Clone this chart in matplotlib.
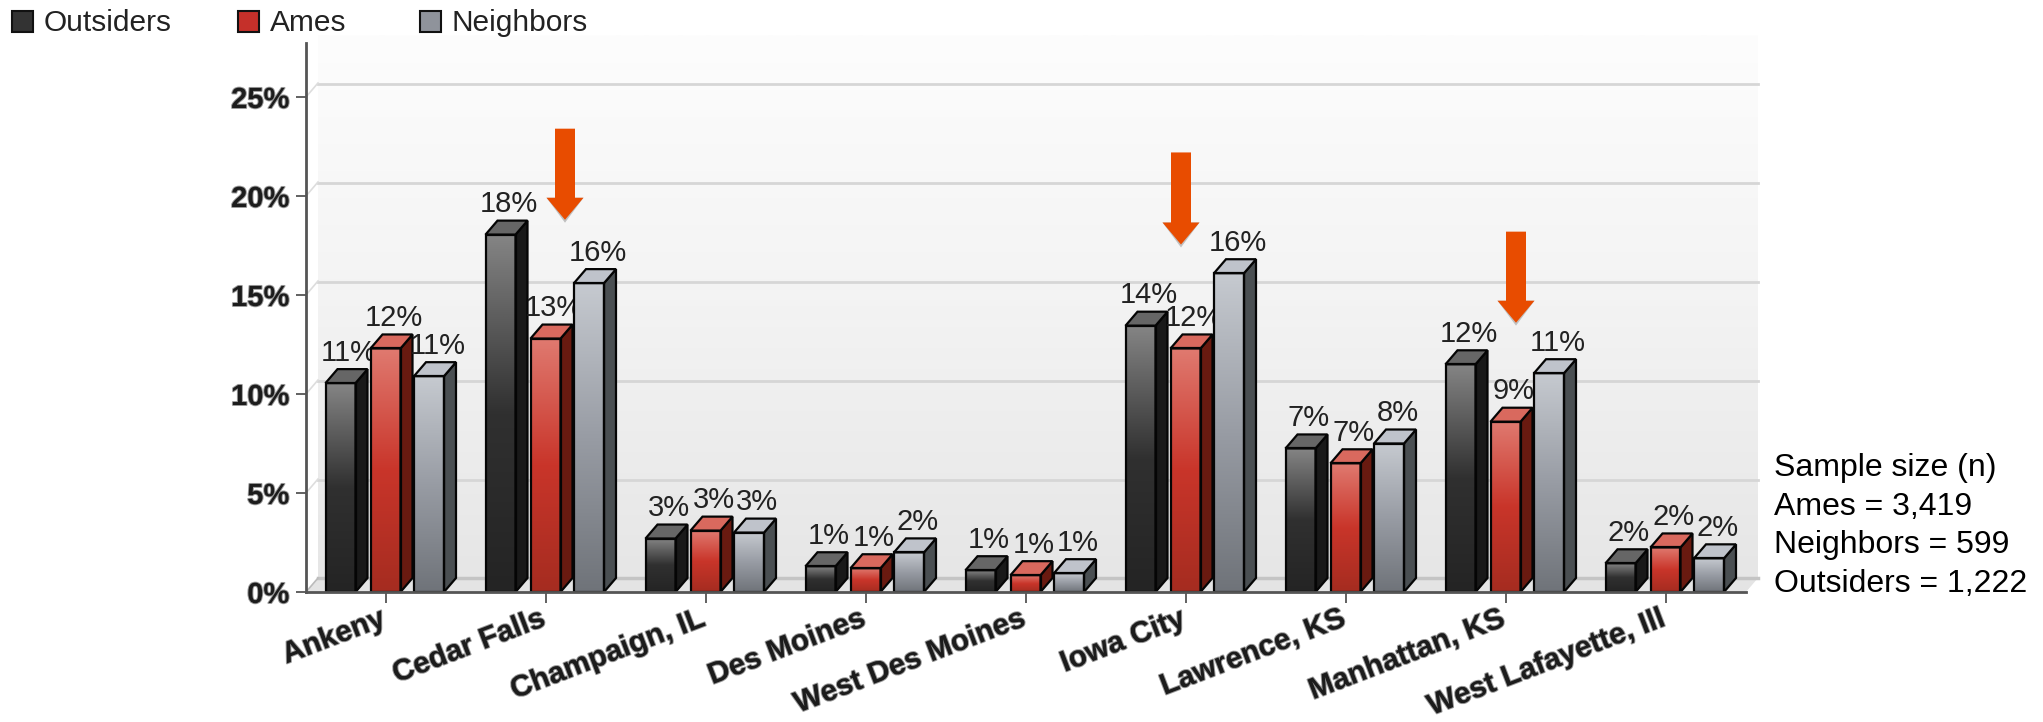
import numpy as np
import matplotlib
matplotlib.use('Agg')
import matplotlib.pyplot as plt
import matplotlib.patheffects as pe
from matplotlib.colors import LinearSegmentedColormap
from matplotlib.patches import Polygon, Rectangle

plt.rcParams['font.family'] = ['Liberation Sans', 'DejaVu Sans']

cities = ['Ankeny', 'Cedar Falls', 'Champaign, IL', 'Des Moines', 'West Des Moines',
          'Iowa City', 'Lawrence, KS', 'Manhattan, KS', 'West Lafayette, Ill']
outsiders = [10.55, 18.05, 2.7, 1.3, 1.1, 13.45, 7.25, 11.5, 1.45]
ames = [12.3, 12.8, 3.1, 1.2, 0.85, 12.3, 6.5, 8.6, 2.25]
neighbors = [10.9, 15.6, 3.0, 2.0, 0.95, 16.1, 7.5, 11.05, 1.7]
outsiders_labels = [11, 18, 3, 1, 1, 14, 7, 12, 2]
ames_labels = [12, 13, 3, 1, 1, 12, 7, 9, 2]
neighbors_labels = [11, 16, 3, 2, 1, 16, 8, 11, 2]
sample_lines = ['Sample size (n)', 'Ames = 3,419', 'Neighbors = 599', 'Outsiders = 1,222']

W, H = 2043, 722
# plot area in pixels
left, right, base, top = 306, 1746, 592, 43
px_x = 160.0          # pixels per category
px_y = 19.8           # pixels per percent
bar_w = 30 / px_x
dx = 12 / px_x        # 3d depth in data units
dy = 14 / px_y

fig = plt.figure(figsize=(W / 100, H / 100), dpi=100, facecolor='white')
ax = fig.add_axes([left / W, (H - base) / H, (right - left) / W, (base - top) / H])
ax.patch.set_visible(False)
xlim = (-0.5, 8.5)
ylim = (0, (base - top) / px_y)


def gradient(x0, x1, y0, y1, cmap, z):
    # vertical gradient, 0 at the top
    g = np.linspace(0, 1, 256).reshape(-1, 1)
    ax.imshow(g, extent=(x0, x1, y0, y1), aspect='auto', cmap=cmap, vmin=0, vmax=1,
              origin='upper', zorder=z, clip_on=False, interpolation='bilinear')


# back wall and floor
wall = LinearSegmentedColormap.from_list('wall', ['#fdfdfd', '#f3f3f3', '#e6e6e6'])
gradient(-0.5 + dx, 8.5 + dx, dy, ylim[1] + 0.4, wall, 0)
ax.add_patch(Polygon([(-0.5, 0), (8.5, 0), (8.5 + dx, dy), (-0.5 + dx, dy)],
                     facecolor='#e4e4e4', edgecolor='none', zorder=0.5, clip_on=False))

for v in [5, 10, 15, 20, 25]:
    ax.plot([-0.5 + dx, 8.5 + dx], [v + dy - 0.05, v + dy - 0.05], color='#d6d6d6', lw=2, zorder=1, clip_on=False)
    ax.plot([-0.5, -0.5 + dx], [v, v + dy], color='#dddddd', lw=1.2, zorder=1, clip_on=False)
ax.plot([-0.5 + dx, 8.5 + dx], [dy, dy], color='#c4c4c4', lw=2.5, zorder=1, clip_on=False)
ax.plot([-0.5, -0.5 + dx], [0, dy], color='#bbbbbb', lw=1.2, zorder=1, clip_on=False)

series = [
    ('Outsiders', outsiders, outsiders_labels, -60.5,
     ['#858585', '#303030', '#242424'], '#191919', '#666666', '#333333'),
    ('Ames', ames, ames_labels, -15.5,
     ['#e07a70', '#c9352a', '#a52c20'], '#691a10', '#d9695e', '#c5302a'),
    ('Neighbors', neighbors, neighbors_labels, 28,
     ['#c6cad0', '#989ca4', '#6f7379'], '#4a4f52', '#bfc3cb', '#8f939b'),
]

for s, (name, values, labels, off, stops, side, cap, swatch) in enumerate(series):
    cmap = LinearSegmentedColormap.from_list(name, stops)
    z = 3 + s
    for i, (v, lab) in enumerate(zip(values, labels)):
        x0 = i + off / px_x
        x1 = x0 + bar_w
        gradient(x0, x1, 0, v, cmap, z)
        ax.add_patch(Rectangle((x0, 0), bar_w, v, fill=False, edgecolor='#050505', lw=1.6, zorder=z + 0.2))
        ax.add_patch(Polygon([(x1, 0), (x1 + dx, dy), (x1 + dx, v + dy), (x1, v)],
                             facecolor=side, edgecolor='#050505', lw=1.6, zorder=z + 0.1))
        ax.add_patch(Polygon([(x0, v), (x1, v), (x1 + dx, v + dy), (x0 + dx, v + dy)],
                             facecolor=cap, edgecolor='#050505', lw=1.6, zorder=z + 0.1))
        ax.text(x0 + (bar_w + dx) / 2 + 0.015, v + dy + 0.12, '%d%%' % lab, ha='center', va='bottom',
                fontsize=21, color='#222222', zorder=z + 0.3, clip_on=False)

# orange arrows: category, x shift, top of the shaft and tip in percent
arrow_city = [1, 5, 7]
arrow_shift = [19, -5, 10]
arrow_top = [23.4, 22.2, 18.2]
arrow_tip = [18.8, 17.55, 13.6]
for c, sh, t0, t1 in zip(arrow_city, arrow_shift, arrow_top, arrow_tip):
    xc = c + sh / px_x
    sw, hw = 10 / px_x, 18.5 / px_x
    neck = t1 + 22 / px_y
    ax.add_patch(Polygon([(xc - hw, neck), (xc, t1 - 0.15), (xc + hw, neck)], facecolor='#c0c0c0',
                         edgecolor='none', zorder=9.9, clip_on=False))
    ax.add_patch(Polygon([(xc - sw, t0), (xc + sw, t0), (xc + sw, neck), (xc + hw, neck), (xc, t1),
                          (xc - hw, neck), (xc - sw, neck)],
                         facecolor='#e84c00', edgecolor='none', zorder=10, clip_on=False))

ax.set_xlim(xlim)
ax.set_ylim(ylim)
soft = [pe.withStroke(linewidth=1.4, foreground='#9a9a9a')]
ax.set_yticks([0, 5, 10, 15, 20, 25])
ax.set_yticklabels(['0%', '5%', '10%', '15%', '20%', '25%'], fontsize=21, fontweight='bold',
                   color='#1c1c1c', path_effects=soft)
ax.set_xticks(range(len(cities)))
ax.set_xticklabels([])
# annotate rather than tick labels, these sit a little left of the tick
for i, city in enumerate(cities):
    ax.annotate(city, xy=(i, 0), xytext=(-5, -9), textcoords='offset points', fontsize=21.5,
                fontweight='bold', color='#1c1c1c', rotation=21, ha='right', va='top',
                rotation_mode='anchor', path_effects=soft, annotation_clip=False)
ax.tick_params(axis='y', length=7, width=1.3, color='#555555', pad=5)
ax.tick_params(axis='x', length=8, width=1.3, color='#555555')
for sp in ['top', 'right']:
    ax.spines[sp].set_visible(False)
for sp in ['left', 'bottom']:
    ax.spines[sp].set_color('#555555')
    ax.spines[sp].set_linewidth(2)
    ax.spines[sp].set_zorder(8)

# legend across the top
legend_x = [12, 238, 420]
for x, (name, values, labels, off, stops, side, cap, swatch) in zip(legend_x, series):
    fig.patches.append(Rectangle((x / W, (H - 32) / H), 21 / W, 21 / H, transform=fig.transFigure,
                                 facecolor=swatch, edgecolor='#111111', lw=1.5))
    fig.text((x + 32) / W, (H - 23) / H, name, fontsize=21.5, color='#222222', va='center')

for k, line in enumerate(sample_lines):
    fig.text(1774 / W, (H - 468 - k * 38.7) / H, line, fontsize=23, color='black', va='center')

fig.savefig('out.png', dpi=100)
